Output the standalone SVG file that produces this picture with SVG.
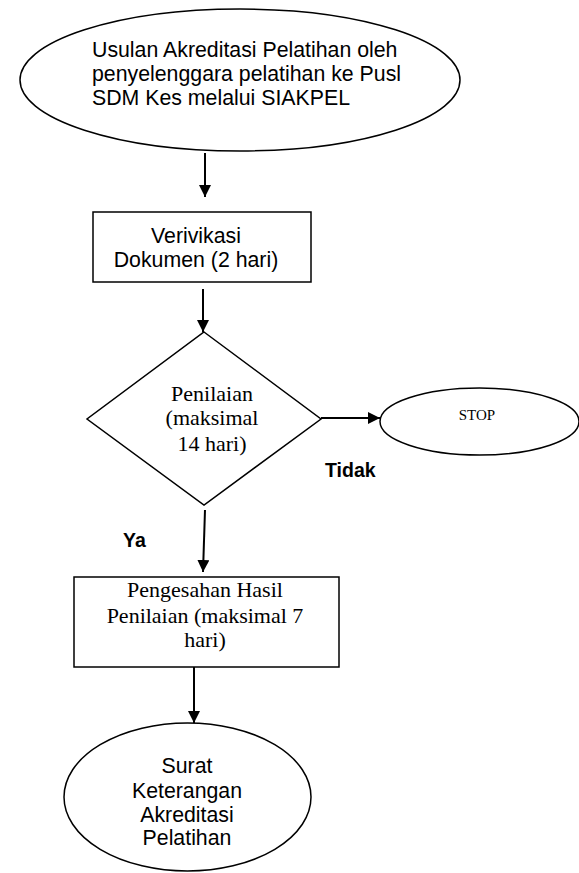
<svg xmlns="http://www.w3.org/2000/svg" width="579" height="873" viewBox="0 0 579 873">
<style>
.shape{fill:#fff;stroke:#000;stroke-width:1.5}
.conn{stroke:#000;stroke-width:2;fill:none}
.sans{font-family:"Liberation Sans",Arial,sans-serif;font-size:21.3px;fill:#000}
.serif{font-family:"Liberation Serif","Times New Roman",serif;font-size:22px;fill:#000}
.lbl{font-family:"Liberation Sans",Arial,sans-serif;font-size:19.5px;font-weight:bold;fill:#000}
</style>
<defs>
<marker id="arr" viewBox="0 0 12 12" refX="12" refY="6" markerWidth="12" markerHeight="12" markerUnits="userSpaceOnUse" orient="auto">
<path d="M0,0 L12,6 L0,12 z" fill="#000"/>
</marker>
</defs>
<rect width="579" height="873" fill="#fff"/>
<g id="start">
<ellipse class="shape" cx="240" cy="80" rx="220" ry="71"/>
<text class="sans" x="92" y="57">Usulan Akreditasi Pelatihan oleh</text>
<text class="sans" x="92" y="81">penyelenggara pelatihan ke Pusl</text>
<text class="sans" x="92" y="105">SDM Kes melalui SIAKPEL</text>
</g>
<g id="verifikasi">
<rect class="shape" x="93" y="212" width="218" height="70"/>
<text class="sans" x="196" y="243" text-anchor="middle">Verivikasi</text>
<text class="sans" x="196" y="267" text-anchor="middle">Dokumen (2 hari)</text>
</g>
<g id="penilaian">
<polygon class="shape" points="204,332 321,419 204,505 87,419"/>
<text class="serif" x="212" y="401" text-anchor="middle">Penilaian</text>
<text class="serif" x="212" y="425" text-anchor="middle">(maksimal</text>
<text class="serif" x="212" y="451" text-anchor="middle">14 hari)</text>
</g>
<g id="stop">
<ellipse class="shape" cx="479.5" cy="421.5" rx="99.5" ry="33.5"/>
<text class="serif" x="477" y="420" text-anchor="middle" style="font-size:15px">STOP</text>
</g>
<g id="pengesahan">
<rect class="shape" x="74" y="577" width="265" height="90"/>
<text class="serif" x="205" y="597" text-anchor="middle">Pengesahan Hasil</text>
<text class="serif" x="205" y="623" text-anchor="middle">Penilaian (maksimal 7</text>
<text class="serif" x="205" y="647" text-anchor="middle">hari)</text>
</g>
<g id="surat">
<ellipse class="shape" cx="187.5" cy="797" rx="123.5" ry="74"/>
<text class="sans" x="187" y="773" text-anchor="middle">Surat</text>
<text class="sans" x="187" y="798" text-anchor="middle">Keterangan</text>
<text class="sans" x="187" y="822" text-anchor="middle">Akreditasi</text>
<text class="sans" x="187" y="845" text-anchor="middle">Pelatihan</text>
</g>
<g id="connectors">
<line class="conn" x1="205" y1="153" x2="205" y2="197" marker-end="url(#arr)"/>
<line class="conn" x1="203" y1="289" x2="203" y2="332" marker-end="url(#arr)"/>
<line class="conn" x1="321" y1="418" x2="380" y2="418" marker-end="url(#arr)"/>
<line class="conn" x1="205" y1="510" x2="203" y2="572" marker-end="url(#arr)"/>
<line class="conn" x1="194" y1="667" x2="194" y2="723" marker-end="url(#arr)"/>
<text class="lbl" x="325" y="477">Tidak</text>
<text class="lbl" x="123" y="547">Ya</text>
</g>
</svg>
